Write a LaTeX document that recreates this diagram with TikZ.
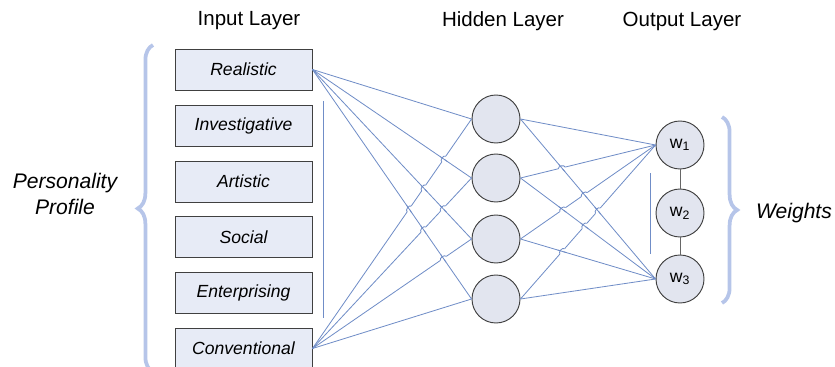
\documentclass[tikz,border=0pt]{standalone}
\usepackage{fontspec}
\setmainfont{Liberation Sans}
\usetikzlibrary{decorations.pathreplacing,intersections,calc}
\definecolor{linkblue}{RGB}{112,141,199}
\definecolor{boxfill}{RGB}{231,235,246}
\definecolor{nodefill}{RGB}{226,229,239}
\definecolor{bracecol}{RGB}{182,197,233}
\begin{document}
\begin{tikzpicture}[x=0.03cm,y=-0.03cm,
    inbox/.style={draw=black!75,fill=boxfill,thick,minimum width=4.11cm,minimum height=1.23cm,font=\fontsize{15}{18}\selectfont\itshape},
    neuron/.style={circle,draw=black!75,fill=nodefill,thick,minimum size=1.44cm,inner sep=0pt,font=\fontsize{15}{18}\selectfont},
    link/.style={draw=linkblue,line width=0.7pt},
    title/.style={font=\fontsize{17.5}{20}\selectfont},
    side/.style={font=\fontsize{18}{22}\selectfont\itshape,align=center},
    curly/.style={draw=bracecol,line width=3.2pt,decorate,decoration={brace,amplitude=13pt}}]
    \useasboundingbox (0,0) rectangle (835,367);
    % headings
    \node[title](tin) at (249,21) {Input Layer};
    \node[title](thid) at (503,21) {Hidden Layer};
    \node[title](tout) at (682,21) {Output Layer};
    % input layer
    \node[inbox](r) at (243.5,69.5) {Realistic};
    \node[inbox](i) at (243.5,125.5) {Investigative};
    \node[inbox](a) at (243.5,181.5) {Artistic};
    \node[inbox](s) at (243.5,237) {Social};
    \node[inbox](e) at (243.5,292.5) {Enterprising};
    \node[inbox](c) at (243.5,348.5) {Conventional};
    % hidden layer
    \node[neuron](h1) at (496,119) {};
    \node[neuron](h2) at (496,178) {};
    \node[neuron](h3) at (496,239) {};
    \node[neuron](h4) at (496,299) {};
    % output layer
    \node[neuron](w1) at (680,145) {w\textsubscript{1}};
    \node[neuron](w2) at (680,213) {w\textsubscript{2}};
    \node[neuron](w3) at (680,279) {w\textsubscript{3}};
    \path[draw=black!60,thick] (w1) -- (w2) (w2) -- (w3);
    % links
    \foreach \h in {h1,h2,h3,h4} {
      \path[link,name path global=r\h] (r.east) -- (\h.west);
      \path[link,name path global=c\h] (c.east) -- (\h.west);
      \path[link,name path global=up\h] (\h.east) -- (w1.west);
      \path[link,name path global=dn\h] (\h.east) -- (w3.west);
    }
    % hops where the rising links cross
    \foreach \j/\k in {2/1,3/1,4/1,3/2,4/2,4/3} {
      \path[name intersections={of/.expanded=rh\j\space and ch\k,by=x}];
      \draw[white,line width=2pt] ($(x)!3pt!(c.east)$) -- ($(x)!3pt!(h\k.west)$);
      \path[link] ($(x)!4pt!(r.east)$) -- ($(x)!4pt!(h\j.west)$);
      \path[link] ($(x)!3pt!(c.east)$) to[bend left=90] ($(x)!3pt!(h\k.west)$);
    }
    \foreach \j/\k in {1/2,1/3,1/4,2/3,2/4,3/4} {
      \path[name intersections={of/.expanded=dnh\j\space and uph\k,by=x}];
      \draw[white,line width=2pt] ($(x)!3pt!(h\k.east)$) -- ($(x)!3pt!(w1.west)$);
      \path[link] ($(x)!4pt!(h\j.east)$) -- ($(x)!4pt!(w3.west)$);
      \path[link] ($(x)!3pt!(h\k.east)$) to[bend left=90] ($(x)!3pt!(w1.west)$);
    }
    % side marks
    \coordinate(m1) at (323,101);
    \coordinate(m2) at (323,318);
    \coordinate(m3) at (650,173);
    \coordinate(m4) at (650,254);
    \path[link] (m1) -- (m2) (m3) -- (m4);
    % braces
    \coordinate(b1) at (153,372);
    \coordinate(b2) at (153,45);
    \coordinate(b3) at (722,117);
    \coordinate(b4) at (722,303);
    \path[curly] (b1) -- (b2);
    \path[curly] (b3) -- (b4);
    \node[side](pp) at (65,194) {Personality\\Profile};
    \node[side](wt) at (794,213) {Weights};
  \end{tikzpicture}
\end{document}
